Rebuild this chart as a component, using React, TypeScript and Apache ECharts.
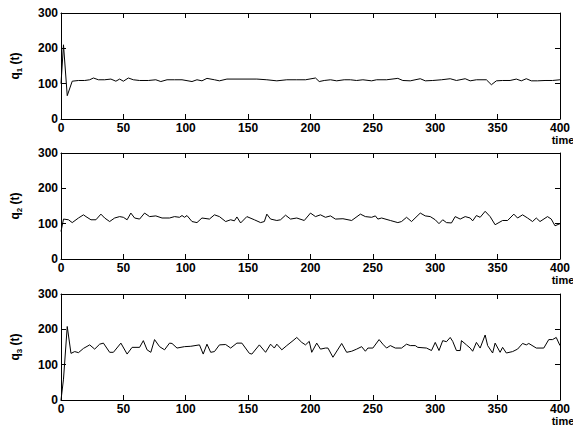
import React, { useEffect, useRef } from "react";
import * as echarts from "echarts";

// time stamps and values
const T1 = [0, 2, 5, 9, 14, 19, 23, 26, 30, 35, 40, 44, 47, 50, 54, 58, 63, 70, 76, 80, 85, 91, 97, 105, 109, 113, 117, 123, 127, 133, 157, 165, 173, 181, 189, 196, 204, 207, 211, 216, 221, 227, 232, 237, 242, 249, 253, 261, 270, 274, 280, 288, 292, 298, 305, 312, 317, 324, 328, 333, 341, 345, 349, 354, 360, 365, 369, 373, 377, 382, 388, 394, 400];
const Q1 = [100, 210, 66, 107, 109, 109, 111, 116, 111, 111, 113, 107, 113, 107, 116, 111, 109, 109, 111, 106, 111, 111, 111, 106, 111, 108, 115, 111, 108, 113, 113, 111, 108, 111, 111, 111, 116, 106, 109, 111, 108, 111, 111, 109, 111, 108, 111, 111, 115, 109, 108, 114, 108, 109, 111, 114, 109, 114, 108, 111, 111, 97, 108, 109, 109, 113, 108, 114, 108, 108, 109, 109, 111];

const T2 = [0, 2, 6, 9, 14, 18, 20, 24, 28, 32, 35, 39, 43, 47, 50, 53, 56, 59, 63, 67, 71, 76, 81, 87, 91, 95, 97, 99, 101, 105, 109, 113, 119, 123, 127, 132, 136, 139, 141, 144, 149, 155, 160, 163, 165, 168, 173, 176, 180, 184, 189, 195, 200, 204, 208, 212, 216, 220, 226, 233, 240, 244, 249, 252, 254, 257, 264, 270, 273, 277, 281, 288, 292, 296, 300, 303, 306, 309, 313, 316, 320, 324, 328, 330, 333, 336, 340, 344, 348, 354, 358, 363, 366, 370, 374, 378, 381, 384, 390, 393, 396, 400];
const Q2 = [78, 113, 111, 103, 116, 125, 120, 111, 111, 127, 116, 106, 116, 120, 118, 111, 130, 116, 113, 130, 120, 122, 116, 116, 120, 118, 123, 118, 123, 106, 103, 116, 113, 125, 120, 106, 111, 108, 119, 102, 120, 111, 103, 106, 127, 113, 109, 111, 124, 113, 116, 109, 130, 120, 125, 118, 122, 113, 114, 109, 127, 120, 118, 122, 113, 116, 109, 103, 106, 118, 106, 130, 122, 120, 111, 100, 111, 103, 102, 120, 113, 120, 116, 108, 123, 118, 135, 120, 97, 109, 109, 127, 116, 125, 116, 106, 116, 106, 120, 113, 94, 100];

const T3 = [0, 2, 5, 8, 11, 14, 18, 23, 27, 31, 34, 39, 42, 48, 53, 57, 63, 66, 69, 72, 75, 79, 83, 87, 89, 93, 99, 104, 111, 114, 117, 120, 123, 127, 132, 136, 141, 145, 151, 153, 159, 164, 168, 171, 173, 177, 181, 186, 189, 193, 196, 199, 201, 205, 208, 212, 214, 218, 225, 229, 233, 237, 241, 244, 246, 250, 255, 258, 261, 264, 268, 273, 277, 280, 284, 286, 293, 297, 300, 303, 306, 309, 312, 314, 317, 320, 321, 325, 328, 330, 333, 336, 340, 342, 346, 348, 352, 354, 357, 362, 366, 370, 373, 375, 381, 387, 391, 394, 397, 400];
const Q3 = [0, 59, 208, 132, 137, 134, 146, 156, 144, 158, 161, 135, 135, 161, 130, 149, 149, 168, 142, 135, 171, 151, 142, 161, 160, 147, 151, 152, 156, 130, 158, 135, 137, 156, 157, 147, 161, 161, 132, 130, 156, 135, 158, 147, 158, 142, 154, 168, 177, 163, 156, 166, 135, 161, 144, 147, 147, 121, 160, 135, 138, 144, 151, 138, 147, 147, 171, 158, 147, 154, 147, 147, 158, 154, 154, 149, 147, 140, 163, 140, 168, 165, 177, 166, 140, 140, 168, 156, 147, 138, 163, 147, 184, 154, 133, 161, 135, 149, 133, 137, 144, 160, 156, 160, 147, 147, 171, 171, 177, 154];

const X_TICKS = { min: 0, max: 400, interval: 50 };
const Y_TICKS = { min: 0, max: 300, interval: 100 };
const NAMES = ["1", "2", "3"];

export default function App() {
  const ref = useRef<HTMLDivElement>(null);
  useEffect(() => {
    document.body.style.margin = "0";
    if (!ref.current) return;
    const chart = echarts.init(ref.current, null, { renderer: "svg" });
    const tops = [13, 153, 294];
    const H = 106;
    const font = "'Liberation Sans', Arial, sans-serif";
    const labelStyle = { fontFamily: font, fontWeight: "bold" as const, fontSize: 12, color: "#000", lineHeight: 12 };
    const lineStyle = { color: "#000", width: 1 };
    const grids = tops.map((t) => ({ left: 61, right: 11, top: t, height: H }));
    const xAxes: any[] = [];
    const yAxes: any[] = [];
    tops.forEach((_, i) => {
      xAxes.push({
        type: "value", gridIndex: i, position: "bottom", ...X_TICKS,
        axisLine: { show: true, onZero: false, lineStyle },
        axisTick: { show: true, inside: true, length: 5, lineStyle },
        axisLabel: { ...labelStyle, margin: 3 },
        splitLine: { show: false },
      });
      xAxes.push({
        type: "value", gridIndex: i, position: "top", ...X_TICKS,
        axisLine: { show: true, onZero: false, lineStyle },
        axisTick: { show: true, inside: true, length: 5, lineStyle },
        axisLabel: { show: false },
        splitLine: { show: false },
      });
      yAxes.push({
        type: "value", gridIndex: i, position: "left", ...Y_TICKS,
        axisLine: { show: true, onZero: false, lineStyle },
        axisTick: { show: true, inside: true, length: 5, lineStyle },
        axisLabel: { ...labelStyle, margin: 3 },
        splitLine: { show: false },
        name: `{a|q}{s|${NAMES[i]}}{a| (t)}`,
        nameLocation: "middle",
        nameGap: 38,
        nameRotate: 90,
        nameTextStyle: {
          rich: {
            a: { fontFamily: font, fontWeight: "bold", fontSize: 12, color: "#000", lineHeight: 16, verticalAlign: "middle" },
            s: { fontFamily: font, fontWeight: "bold", fontSize: 8, color: "#000", lineHeight: 16, verticalAlign: "bottom", padding: [6, 0, 0, 0] },
          },
        },
      });
      yAxes.push({
        type: "value", gridIndex: i, position: "right", ...Y_TICKS,
        axisLine: { show: true, onZero: false, lineStyle },
        axisTick: { show: true, inside: true, length: 5, lineStyle },
        axisLabel: { show: false },
        splitLine: { show: false },
      });
    });
    const data = [
      [T1, Q1],
      [T2, Q2],
      [T3, Q3],
    ];
    const series = data.map(([ts, qs], i) => ({
      type: "line",
      xAxisIndex: i * 2,
      yAxisIndex: i * 2,
      data: ts.map((t, k) => [t, qs[k]]),
      showSymbol: false,
      symbol: "none",
      lineStyle: { color: "#000", width: 1 },
    }));
    const graphics = tops.map((t) => ({
      type: "text",
      x: 563,
      y: t + H + 15,
      style: { text: "time", fontFamily: font, fontWeight: "bold", fontSize: 11, lineHeight: 11, fill: "#000", align: "center", verticalAlign: "top" },
    }));
    chart.setOption({
      animation: false,
      backgroundColor: "#fff",
      grid: grids,
      xAxis: xAxes,
      yAxis: yAxes,
      series,
      graphic: graphics,
    });
    return () => chart.dispose();
  }, []);
  return <div ref={ref} style={{ width: 573, height: 427 }} />;
}
